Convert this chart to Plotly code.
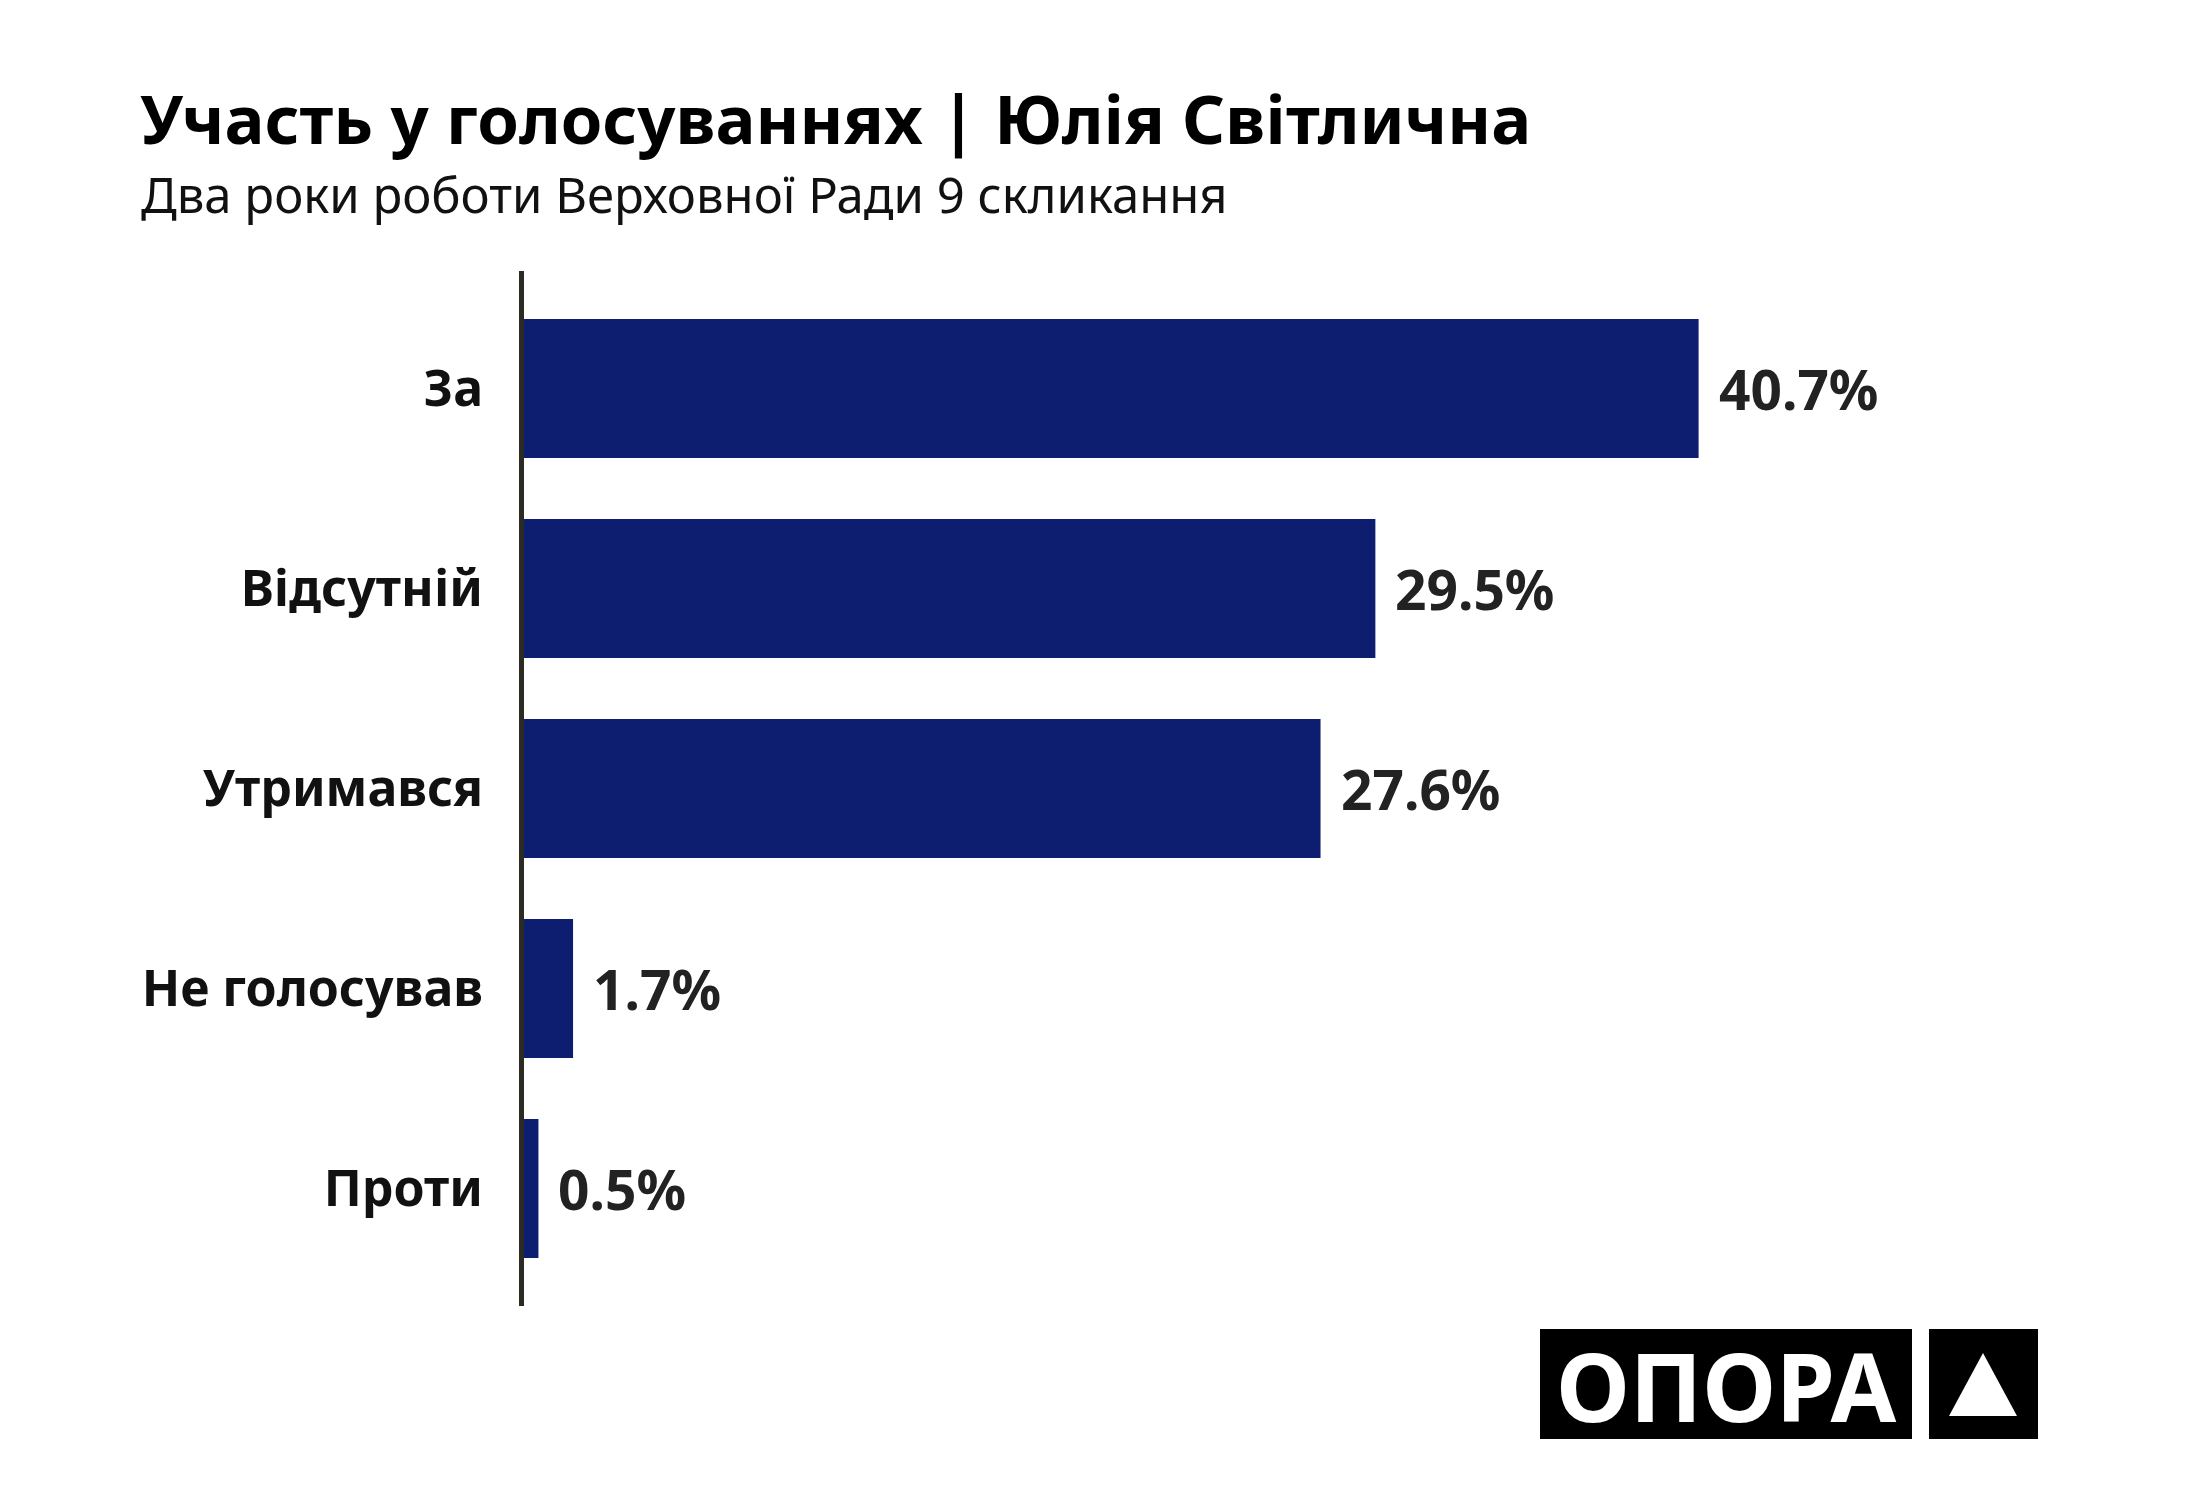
import plotly.graph_objects as go

# дані
categories = ["За", "Відсутній", "Утримався", "Не голосував", "Проти"]
values = [40.7, 29.5, 27.6, 1.7, 0.5]

title_text = "Участь у голосуваннях | Юлія Світлична"
subtitle_text = "Два роки роботи Верховної Ради 9 скликання"
logo_text = "ОПОРА"

W, H = 2200, 1500
L, R, T, B = 516, 241, 263, 202
FONT = "Noto Sans"
BAR = "#0d1d6f"


def px_x(px):
    return (px - L) / (W - L - R)


def px_y(py):
    return (H - B - py) / (H - T - B)


fig = go.Figure(
    go.Bar(
        x=values,
        y=categories,
        orientation="h",
        marker=dict(color=BAR, line=dict(width=0)),
        hoverinfo="skip",
    )
)

for c, v in zip(categories, values):
    fig.add_annotation(
        x=v, y=c, xref="x", yref="y",
        text="<b>%.1f%%</b>" % v,
        showarrow=False, xanchor="left", yanchor="middle", xshift=18,
        font=dict(family=FONT, size=55, color="#222222"),
    )

# заголовок
fig.add_annotation(
    x=px_x(130), y=px_y(110), xref="paper", yref="paper",
    text="<b>%s</b>" % title_text, showarrow=False,
    xanchor="left", yanchor="middle",
    font=dict(family=FONT, size=67, color="#000000"),
)
fig.add_annotation(
    x=px_x(131), y=px_y(186), xref="paper", yref="paper",
    text=subtitle_text, showarrow=False,
    xanchor="left", yanchor="middle",
    font=dict(family=FONT, size=49, color="#111111"),
)

# логотип
fig.add_shape(type="rect", xref="paper", yref="paper",
              x0=px_x(1532), x1=px_x(1904), y0=px_y(1431), y1=px_y(1321),
              fillcolor="#000000", line=dict(width=0), layer="above")
fig.add_shape(type="rect", xref="paper", yref="paper",
              x0=px_x(1921), x1=px_x(2030), y0=px_y(1431), y1=px_y(1321),
              fillcolor="#000000", line=dict(width=0), layer="above")
fig.add_shape(type="path", xref="paper", yref="paper",
              path="M %f,%f L %f,%f L %f,%f Z" % (
                  px_x(1975), px_y(1345), px_x(1941), px_y(1408), px_x(2009), px_y(1408)),
              fillcolor="#ffffff", line=dict(width=0), layer="above")
fig.add_annotation(
    x=px_x(1718), y=px_y(1377), xref="paper", yref="paper",
    text="<b>%s</b>" % logo_text, showarrow=False,
    xanchor="center", yanchor="middle",
    font=dict(family=FONT, size=95, color="#ffffff"),
)

fig.update_layout(
    width=W, height=H,
    margin=dict(l=L, r=R, t=T, b=B, pad=0),
    paper_bgcolor="#ffffff",
    plot_bgcolor="#ffffff",
    showlegend=False,
    bargap=0.305,
    xaxis=dict(range=[0, 50], visible=False, fixedrange=True),
    yaxis=dict(
        categoryorder="array", categoryarray=categories,
        range=[4.5875, -0.5875],
        showline=True, linecolor="#2b2b23", linewidth=5,
        showgrid=False, zeroline=False,
        ticks="outside", ticklen=26, tickcolor="rgba(0,0,0,0)",
        tickfont=dict(family=FONT, size=50, color="#111111", weight="bold"),
        fixedrange=True,
    ),
)

fig.write_html("out.html")
